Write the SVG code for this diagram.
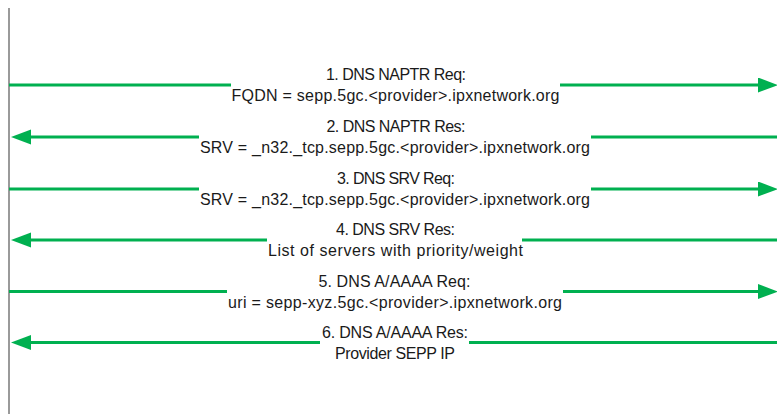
<svg xmlns="http://www.w3.org/2000/svg" width="777" height="414" viewBox="0 0 777 414">
<style>
.t{font-family:"Liberation Sans",Arial,sans-serif;font-size:16px;fill:#1a1a1a;text-anchor:middle}
.a{stroke:#00b050;stroke-width:3;fill:none}
.ah{stroke:#00b050;stroke-width:3;fill:none;marker-end:url(#head)}
</style>
<defs>
<marker id="head" markerUnits="userSpaceOnUse" markerWidth="21" markerHeight="16" refX="0" refY="7.5" orient="auto">
<path d="M0,0 L20,7.5 L0,15 Z" fill="#00b050"/>
</marker>
</defs>
<rect width="777" height="414" fill="#ffffff"/>
<g id="lifeline">
<line x1="9" y1="8" x2="9" y2="414" stroke="#9a9a9a" stroke-width="2"/>
</g>
<g id="connectors">
<line class="a" x1="9" y1="85" x2="231" y2="85"/>
<line class="ah" x1="560" y1="85" x2="758" y2="85"/>
<line class="ah" x1="199" y1="137" x2="31" y2="137"/>
<line class="a" x1="591" y1="137" x2="777" y2="137"/>
<line class="a" x1="9" y1="189" x2="199" y2="189"/>
<line class="ah" x1="591" y1="189" x2="758" y2="189"/>
<line class="ah" x1="267" y1="240" x2="31" y2="240"/>
<line class="a" x1="522" y1="240" x2="777" y2="240"/>
<line class="a" x1="9" y1="291.5" x2="227" y2="291.5"/>
<line class="ah" x1="563" y1="291.5" x2="758" y2="291.5"/>
<line class="ah" x1="320" y1="342.5" x2="31" y2="342.5"/>
<line class="a" x1="469" y1="342.5" x2="777" y2="342.5"/>
</g>
<g id="msg1">
<text class="t" x="396" y="80" textLength="140">1. DNS NAPTR Req:</text>
<text class="t" x="395.5" y="101" textLength="328">FQDN = sepp.5gc.&lt;provider&gt;.ipxnetwork.org</text>
</g>
<g id="msg2">
<text class="t" x="396" y="132" textLength="139">2. DNS NAPTR Res:</text>
<text class="t" x="395" y="153" textLength="390">SRV = _n32._tcp.sepp.5gc.&lt;provider&gt;.ipxnetwork.org</text>
</g>
<g id="msg3">
<text class="t" x="396" y="184" textLength="118">3. DNS SRV Req:</text>
<text class="t" x="395" y="205" textLength="390">SRV = _n32._tcp.sepp.5gc.&lt;provider&gt;.ipxnetwork.org</text>
</g>
<g id="msg4">
<text class="t" x="395.5" y="235" textLength="119">4. DNS SRV Res:</text>
<text class="t" x="395.5" y="256" textLength="255">List of servers with priority/weight</text>
</g>
<g id="msg5">
<text class="t" x="394.5" y="286.5" textLength="152">5. DNS A/AAAA Req:</text>
<text class="t" x="395" y="307.5" textLength="334">uri = sepp-xyz.5gc.&lt;provider&gt;.ipxnetwork.org</text>
</g>
<g id="msg6">
<text class="t" x="395" y="337.5" textLength="146">6. DNS A/AAAA Res:</text>
<text class="t" x="395" y="358.5" textLength="120">Provider SEPP IP</text>
</g>
</svg>
